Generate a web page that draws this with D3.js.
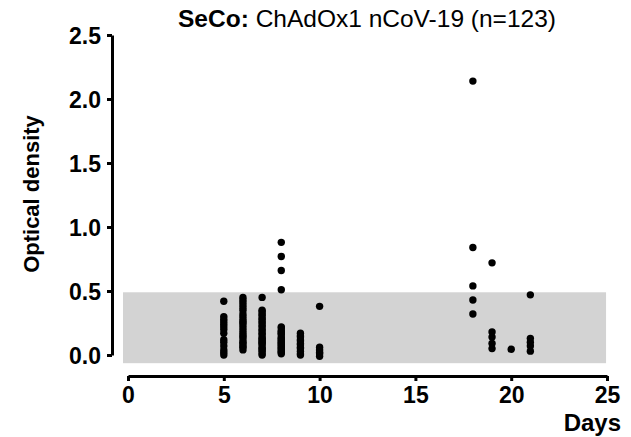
<!DOCTYPE html>
<html><head><meta charset="utf-8">
<script src="https://cdn.jsdelivr.net/npm/d3@7"></script>
<style>
body{margin:0;background:#fff;}
text{font-family:"Liberation Sans",Arial,sans-serif;}
</style></head>
<body><svg id="c" width="631" height="437"></svg>
<script>
// ---- data ----
const days = [5, 6, 7, 8, 9, 10, 18, 19, 20, 21];
const odDay5  = [0.42,0.30,0.28,0.26,0.24,0.22,0.20,0.17,0.12,0.10,0.07,0.04,0.02,0.00];
const odDay6  = [0.45,0.43,0.41,0.39,0.37,0.35,0.32,0.30,0.28,0.26,0.25,0.23,0.21,0.19,0.17,0.15,0.14,0.12,0.10,0.09,0.07,0.06,0.04];
const odDay7  = [0.45,0.35,0.34,0.32,0.31,0.29,0.28,0.26,0.25,0.23,0.22,0.20,0.19,0.17,0.16,0.14,0.13,0.12,0.11,0.10,0.09,0.08,0.06,0.05,0.04,0.03,0.01,0.00];
const odDay8  = [0.88,0.77,0.66,0.51,0.22,0.21,0.19,0.18,0.17,0.16,0.14,0.13,0.12,0.11,0.10,0.09,0.08,0.07,0.06,0.05,0.04,0.03,0.02,0.01];
const odDay9  = [0.17,0.15,0.14,0.12,0.11,0.09,0.08,0.06,0.05,0.03,0.01,0.00];
const odDay10 = [0.38,0.06,0.04,0.02,0.01,-0.01];
const odDay18 = [2.14,0.84,0.54,0.43,0.32];
const odDay19 = [0.72,0.18,0.14,0.09,0.05];
const odDay20 = [0.045];
const odDay21 = [0.47,0.13,0.10,0.07,0.03];
const odByDay = [odDay5, odDay6, odDay7, odDay8, odDay9, odDay10, odDay18, odDay19, odDay20, odDay21];
const xTicks = [0, 5, 10, 15, 20, 25];
const yTicks = [0, 0.5, 1.0, 1.5, 2.0, 2.5];
const bandX = [-0.26, 24.95];
const bandY = [-0.064, 0.49];

const points = [];
days.forEach((d, i) => odByDay[i].forEach(v => points.push({day: d, od: v})));

// ---- chart ----
const svg = d3.select("#c");
const x = d3.scaleLinear().domain([0, 25]).range([128, 607]);
const y = d3.scaleLinear().domain([0, 2.5]).range([355, 35]);

svg.append("rect")
  .attr("x", x(bandX[0])).attr("width", x(bandX[1]) - x(bandX[0]))
  .attr("y", y(bandY[1])).attr("height", y(bandY[0]) - y(bandY[1]))
  .attr("fill", "#d3d3d3");

const yAxis = svg.append("g").attr("transform", "translate(112,0)")
  .call(d3.axisLeft(y).tickValues(yTicks).tickFormat(d3.format(".1f")).tickSize(5).tickSizeOuter(0).tickPadding(6));
const xAxis = svg.append("g").attr("transform", "translate(0,376)")
  .call(d3.axisBottom(x).tickValues(xTicks).tickFormat(d3.format("d")).tickSize(5).tickSizeOuter(0).tickPadding(6));

[yAxis, xAxis].forEach(g => {
  g.select(".domain").attr("stroke", "#000").attr("stroke-width", 3);
  g.selectAll(".tick line").attr("stroke", "#000").attr("stroke-width", 3);
  g.selectAll(".tick text").attr("fill", "#000").style("font-family", "'Liberation Sans',Arial,sans-serif")
    .style("font-weight", "bold").style("font-size", "23px");
});
yAxis.selectAll(".tick text").attr("dy", "0.35em");

svg.append("g").selectAll("circle").data(points).join("circle")
  .attr("cx", d => x(d.day)).attr("cy", d => y(d.od)).attr("r", 3.7).attr("fill", "#000");

const title = svg.append("text").attr("x", 367).attr("y", 27).attr("text-anchor", "middle")
  .style("font-size", "24.5px").attr("fill", "#000");
title.append("tspan").style("font-weight", "bold").text("SeCo:");
title.append("tspan").text(" ChAdOx1 nCoV-19 (n=123)");

svg.append("text").attr("transform", "translate(39,194) rotate(-90)").attr("text-anchor", "middle")
  .style("font-size", "22px").style("font-weight", "bold").attr("fill", "#000").text("Optical density");

svg.append("text").attr("x", 621).attr("y", 431).attr("text-anchor", "end")
  .style("font-size", "24px").style("font-weight", "bold").attr("fill", "#000").text("Days");
</script></body></html>
